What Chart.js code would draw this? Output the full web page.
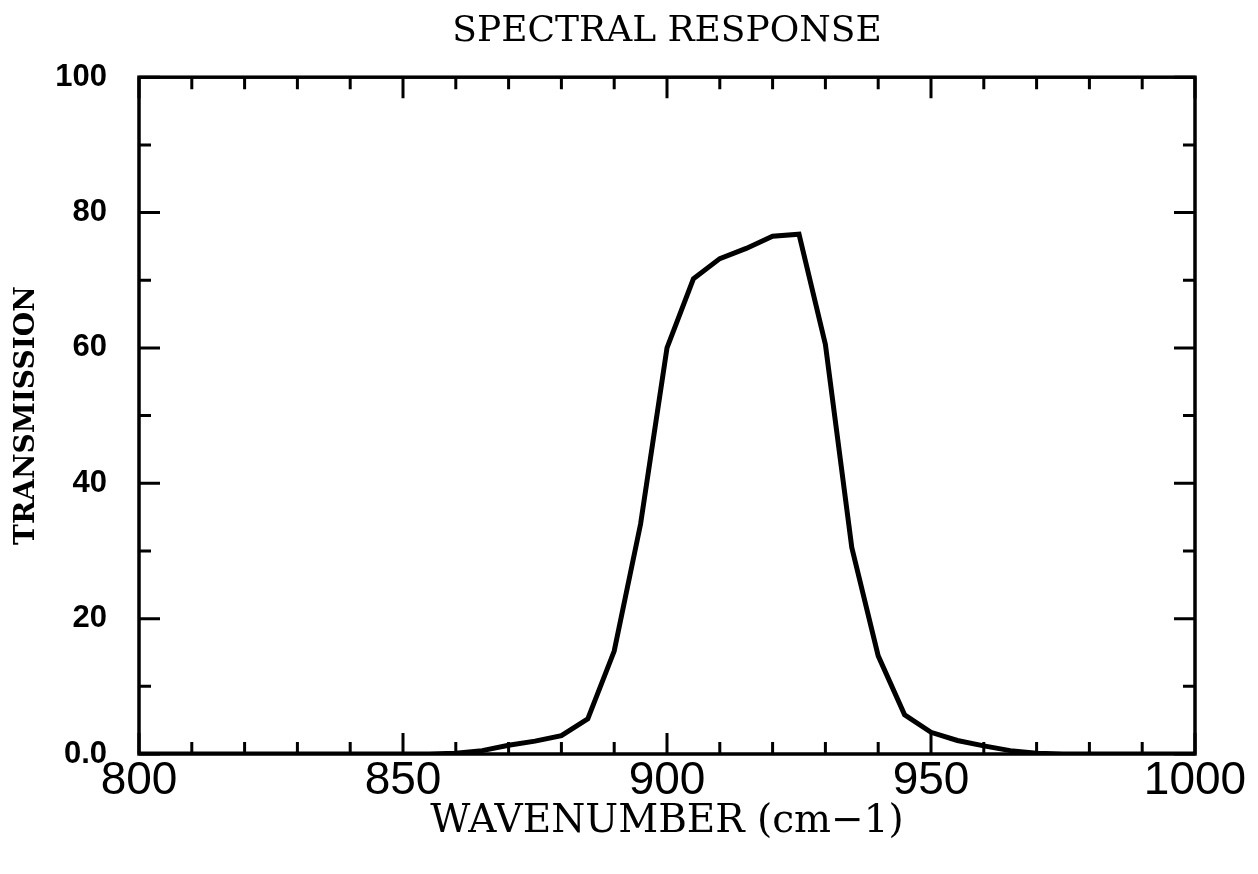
<!DOCTYPE html>
<html>
<head>
<meta charset="utf-8">
<title>Spectral response</title>
<script src="https://cdn.jsdelivr.net/npm/chart.js@4/dist/chart.umd.min.js"></script>
<style>
    html, body { margin: 0; padding: 0; background: #fff; }
    #wrap { width: 1258px; height: 874px; position: relative; }
</style>
</head>
<body>
<div id="wrap"><canvas id="chart"></canvas></div>
<script>
'use strict';

// Filter transmission (wavenumber in cm-1, transmission in %)
var wavenumber = [800, 855, 860, 865, 870, 875, 880, 885, 890, 895, 900, 905, 910, 915, 920, 925, 930, 935, 940, 945, 950, 955, 960, 965, 970, 975, 1000];
var transmission = [0, 0, 0.1, 0.5, 1.3, 1.9, 2.7, 5.2, 15.2, 34, 60, 70.2, 73.2, 74.7, 76.5, 76.8, 60.5, 30.5, 14.5, 5.8, 3.2, 2.0, 1.2, 0.5, 0.1, 0, 0];

var xMajorTicks = [800, 850, 900, 950, 1000];
var xMinorTicks = [810, 820, 830, 840, 860, 870, 880, 890, 910, 920, 930, 940, 960, 970, 980, 990];
var yMajorTicks = [0, 20, 40, 60, 80, 100];
var yMinorTicks = [10, 30, 50, 70, 90];

var points = wavenumber.map(function (w, i) {
    return { x: w, y: transmission[i] };
});

// Frame round the plot with inward ticks on all four sides:
var frameTicks = {
    id: 'frameTicks',
    afterDraw: function (chart) {
        var ctx = chart.ctx;
        var area = chart.chartArea;
        var xs = chart.scales.x;
        var ys = chart.scales.y;
        var major = 21, minor = 12;

        ctx.save();
        ctx.strokeStyle = '#000';
        ctx.lineWidth = 3;
        ctx.lineCap = 'butt';

        var tickX = function (v, len) {
            var px = xs.getPixelForValue(v);
            ctx.beginPath();
            ctx.moveTo(px, area.bottom);
            ctx.lineTo(px, area.bottom - len);
            ctx.moveTo(px, area.top);
            ctx.lineTo(px, area.top + len);
            ctx.stroke();
        };
        var tickY = function (v, len) {
            var py = ys.getPixelForValue(v);
            ctx.beginPath();
            ctx.moveTo(area.left, py);
            ctx.lineTo(area.left + len, py);
            ctx.moveTo(area.right, py);
            ctx.lineTo(area.right - len, py);
            ctx.stroke();
        };

        xMajorTicks.forEach(function (v) { tickX(v, major); });
        xMinorTicks.forEach(function (v) { tickX(v, minor); });
        yMajorTicks.forEach(function (v) { tickY(v, major); });
        yMinorTicks.forEach(function (v) { tickY(v, minor); });

        ctx.lineWidth = 3.5;
        ctx.strokeRect(area.left, area.top, area.right - area.left, area.bottom - area.top);
        ctx.restore();
    }
};

var ctx = document.getElementById('chart').getContext('2d');
var chart = new Chart(ctx, {
    type: 'line',
    data: {
        datasets: [{
            data: points,
            borderColor: '#000',
            borderWidth: 5,
            pointRadius: 0,
            tension: 0,
            fill: false
        }]
    },
    options: {
        responsive: true,
        maintainAspectRatio: false,
        animation: false,
        layout: { padding: { left: 0, right: 63, top: 0, bottom: 0 } },
        plugins: {
            legend: { display: false },
            tooltip: { enabled: false },
            title: {
                display: true,
                fullSize: false,
                text: 'SPECTRAL RESPONSE',
                color: '#000',
                font: { family: "'DejaVu Serif'", size: 36, weight: 'normal' },
                padding: { top: 10, bottom: 24 }
            }
        },
        scales: {
            x: {
                type: 'linear',
                min: 800,
                max: 1000,
                grid: { display: false },
                border: { display: false },
                ticks: {
                    stepSize: 50,
                    color: '#000',
                    padding: -8,
                    maxRotation: 0,
                    font: { family: "'Liberation Sans'", size: 46 },
                    callback: function (value) { return String(value); }
                },
                title: {
                    display: true,
                    text: 'WAVENUMBER (cm\u22121)',
                    color: '#000',
                    font: { family: "'DejaVu Serif'", size: 39 },
                    padding: { top: 0, bottom: 29 }
                },
                afterFit: function (scale) { scale.height = 120; }
            },
            y: {
                min: 0,
                max: 100,
                grid: { display: false },
                border: { display: false },
                ticks: {
                    stepSize: 20,
                    color: '#000',
                    padding: 24,
                    font: { family: "'Liberation Sans'", size: 31, weight: 'bold' },
                    callback: function (value) {
                        return value === 0 ? '0.0' : value;
                    }
                },
                title: {
                    display: true,
                    text: 'TRANSMISSION',
                    color: '#000',
                    font: { family: "'DejaVu Serif'", size: 28, weight: 'bold' },
                    padding: { top: 10, bottom: 0 }
                },
                afterFit: function (scale) { scale.width = 139; }
            }
        }
    },
    plugins: [frameTicks]
});
</script>
</body>
</html>
